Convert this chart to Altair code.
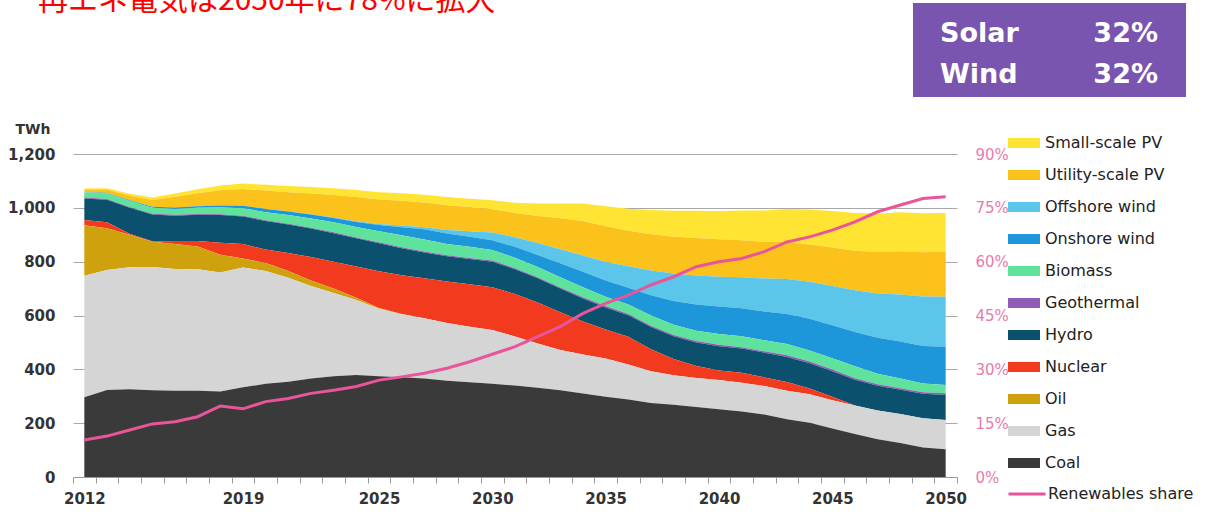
import altair as alt
import pandas as pd

years = list(range(2012, 2051))

coal = [296, 323, 326, 322, 320, 320, 318, 333, 346, 354, 366, 374, 379, 374, 371, 366, 358, 352, 346, 340,
        332, 322, 310, 298, 288, 275, 268, 260, 252, 243, 232, 215, 202, 180, 160, 140, 126, 110, 103]
gas = [452, 446, 453, 458, 453, 452, 442, 445, 419, 386, 344, 310, 279, 251, 234, 224, 214, 206, 200, 182,
       164, 150, 145, 142, 130, 118, 110, 108, 108, 107, 106, 105, 105, 105, 106, 107, 108, 108, 109]
oil = [187, 155, 121, 94, 93, 84, 66, 34, 30, 25, 20, 16, 8, 3, 1, 0, 0, 0, 0, 0,
       0, 0, 0, 0, 0, 0, 0, 0, 0, 0, 0, 0, 0, 0, 0, 0, 0, 0, 0]
nuclear = [20, 22, 4, 2, 11, 21, 44, 54, 50, 67, 87, 100, 116, 136, 144, 148, 154, 158, 159, 158,
           152, 140, 123, 108, 103, 82, 60, 44, 36, 37, 32, 33, 22, 13, 0, 0, 0, 0, 0]
hydro = [80, 84, 96, 99, 94, 97, 103, 102, 106, 106, 106, 106, 105, 104, 100, 96, 94, 94, 95, 92,
         90, 88, 85, 82, 80, 82, 85, 88, 90, 90, 92, 93, 94, 95, 95, 92, 90, 91, 93]
geothermal = [3, 3, 3, 3, 3, 3, 3, 3, 3, 3, 3, 3, 3, 4, 4, 4, 4, 4, 4, 4,
              4, 4, 5, 5, 5, 5, 5, 5, 5, 5, 5, 6, 6, 6, 6, 6, 6, 6, 6]
biomass = [19, 21, 22, 22, 22, 23, 25, 27, 30, 32, 34, 37, 39, 41, 44, 44, 42, 41, 39, 39,
           38, 38, 37, 35, 35, 38, 38, 38, 40, 41, 41, 42, 41, 42, 44, 39, 36, 32, 31]
onshore = [1, 2, 3, 4, 5, 6, 8, 10, 12, 13, 15, 16, 18, 23, 30, 38, 39, 38, 37, 40,
           45, 52, 58, 60, 62, 75, 88, 98, 102, 104, 107, 112, 118, 123, 128, 133, 137, 140, 142]
offshore = [0, 0, 0, 0, 0, 0, 0, 0, 0, 1, 1, 2, 3, 4, 6, 8, 13, 20, 28, 36,
            44, 52, 60, 69, 80, 92, 102, 108, 111, 115, 122, 130, 137, 146, 155, 165, 175, 184, 186]
utility_pv = [10, 12, 17, 25, 40, 48, 56, 62, 68, 71, 77, 84, 90, 91, 92, 92, 92, 90, 87, 90,
              101, 115, 128, 133, 132, 135, 137, 139, 139, 138, 137, 136, 139, 143, 147, 154, 161, 164, 167]
small_pv = [4, 5, 7, 9, 12, 15, 18, 20, 22, 23, 24, 25, 26, 27, 28, 29, 30, 31, 33, 38,
            46, 55, 65, 74, 82, 90, 96, 101, 105, 110, 116, 124, 130, 135, 140, 143, 145, 145, 144]
renew_share = [10.3, 11.4, 13.1, 14.8, 15.4, 16.8, 19.8, 19.0, 21.0, 21.9, 23.3, 24.2, 25.2, 27.0, 27.9,
               28.9, 30.3, 32.1, 34.2, 36.3, 39.1, 41.9, 45.6, 48.4, 50.7, 53.5, 55.8, 58.6, 60.0, 60.9,
               62.8, 65.5, 66.9, 68.8, 71.1, 73.9, 75.8, 77.6, 78.1]

sources = ["Small-scale PV", "Utility-scale PV", "Offshore wind", "Onshore wind", "Biomass",
           "Geothermal", "Hydro", "Nuclear", "Oil", "Gas", "Coal"]
colors = ["#FFE433", "#FAC21A", "#5CC5EA", "#1E96DA", "#5FE39C",
          "#8E5DB8", "#0B506C", "#F23A1F", "#CFA10C", "#D5D5D5", "#3A3A3A"]
series = {
    "Small-scale PV": small_pv, "Utility-scale PV": utility_pv, "Offshore wind": offshore,
    "Onshore wind": onshore, "Biomass": biomass, "Geothermal": geothermal, "Hydro": hydro,
    "Nuclear": nuclear, "Oil": oil, "Gas": gas, "Coal": coal,
}

label_years = [2012, 2019, 2025, 2030, 2035, 2040, 2045, 2050]
y_ticks = [0, 200, 400, 600, 800, 1000, 1200]
share_ticks = [0, 0.15, 0.30, 0.45, 0.60, 0.75, 0.90]
title_text = "再エネ電気は2050年に78%に拡大"
box_names = ["Solar", "Wind"]
box_values = ["32%", "32%"]

rows = []
for name in sources:
    rank = len(sources) - 1 - sources.index(name)
    for yr, v in zip(years, series[name]):
        rows.append({"year": yr, "source": name, "twh": v, "rank": rank})
df = pd.DataFrame(rows)
share_df = pd.DataFrame({"year": years, "share": [s / 100 for s in renew_share],
                         "label": "Renewables share"})

tick_positions = [yr - 0.5 for yr in years] + [years[-1] + 0.5]
x_scale = alt.Scale(domain=[years[0] - 0.5, years[-1] + 0.5], nice=False, zero=False)
FONT = "DejaVu Sans"

area = alt.Chart(df).mark_area().encode(
    x=alt.X("year:Q", scale=x_scale,
            axis=alt.Axis(values=label_years, format="d", ticks=False, domain=False, grid=False,
                          labelFont=FONT, labelFontWeight="bold", labelFontSize=15, labelColor="#333333",
                          labelPadding=14, title=None, orient="bottom")),
    y=alt.Y("twh:Q", stack="zero", scale=alt.Scale(domain=[0, 1200], nice=False),
            axis=alt.Axis(values=y_ticks, format=",.0f", grid=True, gridColor="#A8A8A8", gridWidth=1,
                          ticks=False, domain=False, labelPadding=18, labelFont=FONT,
                          labelFontWeight="bold", labelFontSize=15, labelColor="#333333",
                          title="TWh", titleAngle=0, titleX=-58, titleY=-21, titleAlign="left",
                          titleBaseline="alphabetic", titleFont=FONT, titleFontSize=14,
                          titleFontWeight="bold", titleColor="#333333", orient="left")),
    fill=alt.Fill("source:N", scale=alt.Scale(domain=sources, range=colors),
                  legend=alt.Legend(title=None, orient="none", legendX=935, legendY=-27,
                                    symbolType="M-1,-0.3125H1V0.3125H-1Z", symbolSize=1024,
                                    symbolStrokeWidth=0, labelFont=FONT, labelFontSize=16,
                                    labelColor="#222222", labelOffset=5, rowPadding=8, padding=0)),
    order=alt.Order("rank:Q", sort="ascending"),
)

line = alt.Chart(share_df).mark_line(strokeWidth=3).encode(
    x=alt.X("year:Q", scale=x_scale,
            axis=alt.Axis(values=tick_positions, labels=False, ticks=True, tickSize=6, tickColor="#9A9A9A",
                          domain=True, domainColor="#9A9A9A", grid=False, title=None, orient="bottom")),
    y=alt.Y("share:Q", scale=alt.Scale(domain=[0, 0.9], nice=False),
            axis=alt.Axis(orient="right", values=share_ticks, format=".0%", labelColor="#E97AAD",
                          ticks=False, domain=False, grid=False, labelPadding=18, labelFont=FONT,
                          labelFontSize=15, title=None)),
    stroke=alt.Stroke("label:N", scale=alt.Scale(domain=["Renewables share"], range=["#E8559B"]),
                      legend=alt.Legend(title=None, orient="none", legendX=934, legendY=320,
                                        symbolType="stroke", symbolSize=1369, symbolStrokeWidth=3,
                                        labelFont=FONT, labelFontSize=16, labelColor="#222222",
                                        labelOffset=1, padding=0)),
)

one = pd.DataFrame({"k": [0]})
box = alt.Chart(one).mark_rect(color="#7A55B0").encode(
    x=alt.value(840), x2=alt.value(1113), y=alt.value(-151), y2=alt.value(-57))

def box_text(txt, xpos, ypos, align):
    return alt.Chart(one).mark_text(text=txt, align=align, baseline="alphabetic", font=FONT,
                                    fontSize=27, fontWeight="bold", color="#FFFFFF").encode(
        x=alt.value(xpos), y=alt.value(ypos))

texts = [
    box_text(box_names[0], 867, -112, "left"),
    box_text(box_values[0], 1085, -112, "right"),
    box_text(box_names[1], 867, -71, "left"),
    box_text(box_values[1], 1085, -71, "right"),
]

title = alt.Chart(one).mark_text(text=title_text, align="left", baseline="alphabetic",
                                 font="Noto Sans CJK JP", fontSize=30, color="#FF0000").encode(
    x=alt.value(-35), y=alt.value(-144))

chart = alt.layer(area, line, box, *texts, title).resolve_scale(
    y="independent").resolve_axis(x="independent").properties(
    width=884, height=323,
    autosize=alt.AutoSizeParams(type="none"),
    padding={"left": 73, "top": 154, "right": 253, "bottom": 38},
).configure_view(stroke=None)

chart.save("out.html", embed_options={"renderer": "svg", "actions": False})
